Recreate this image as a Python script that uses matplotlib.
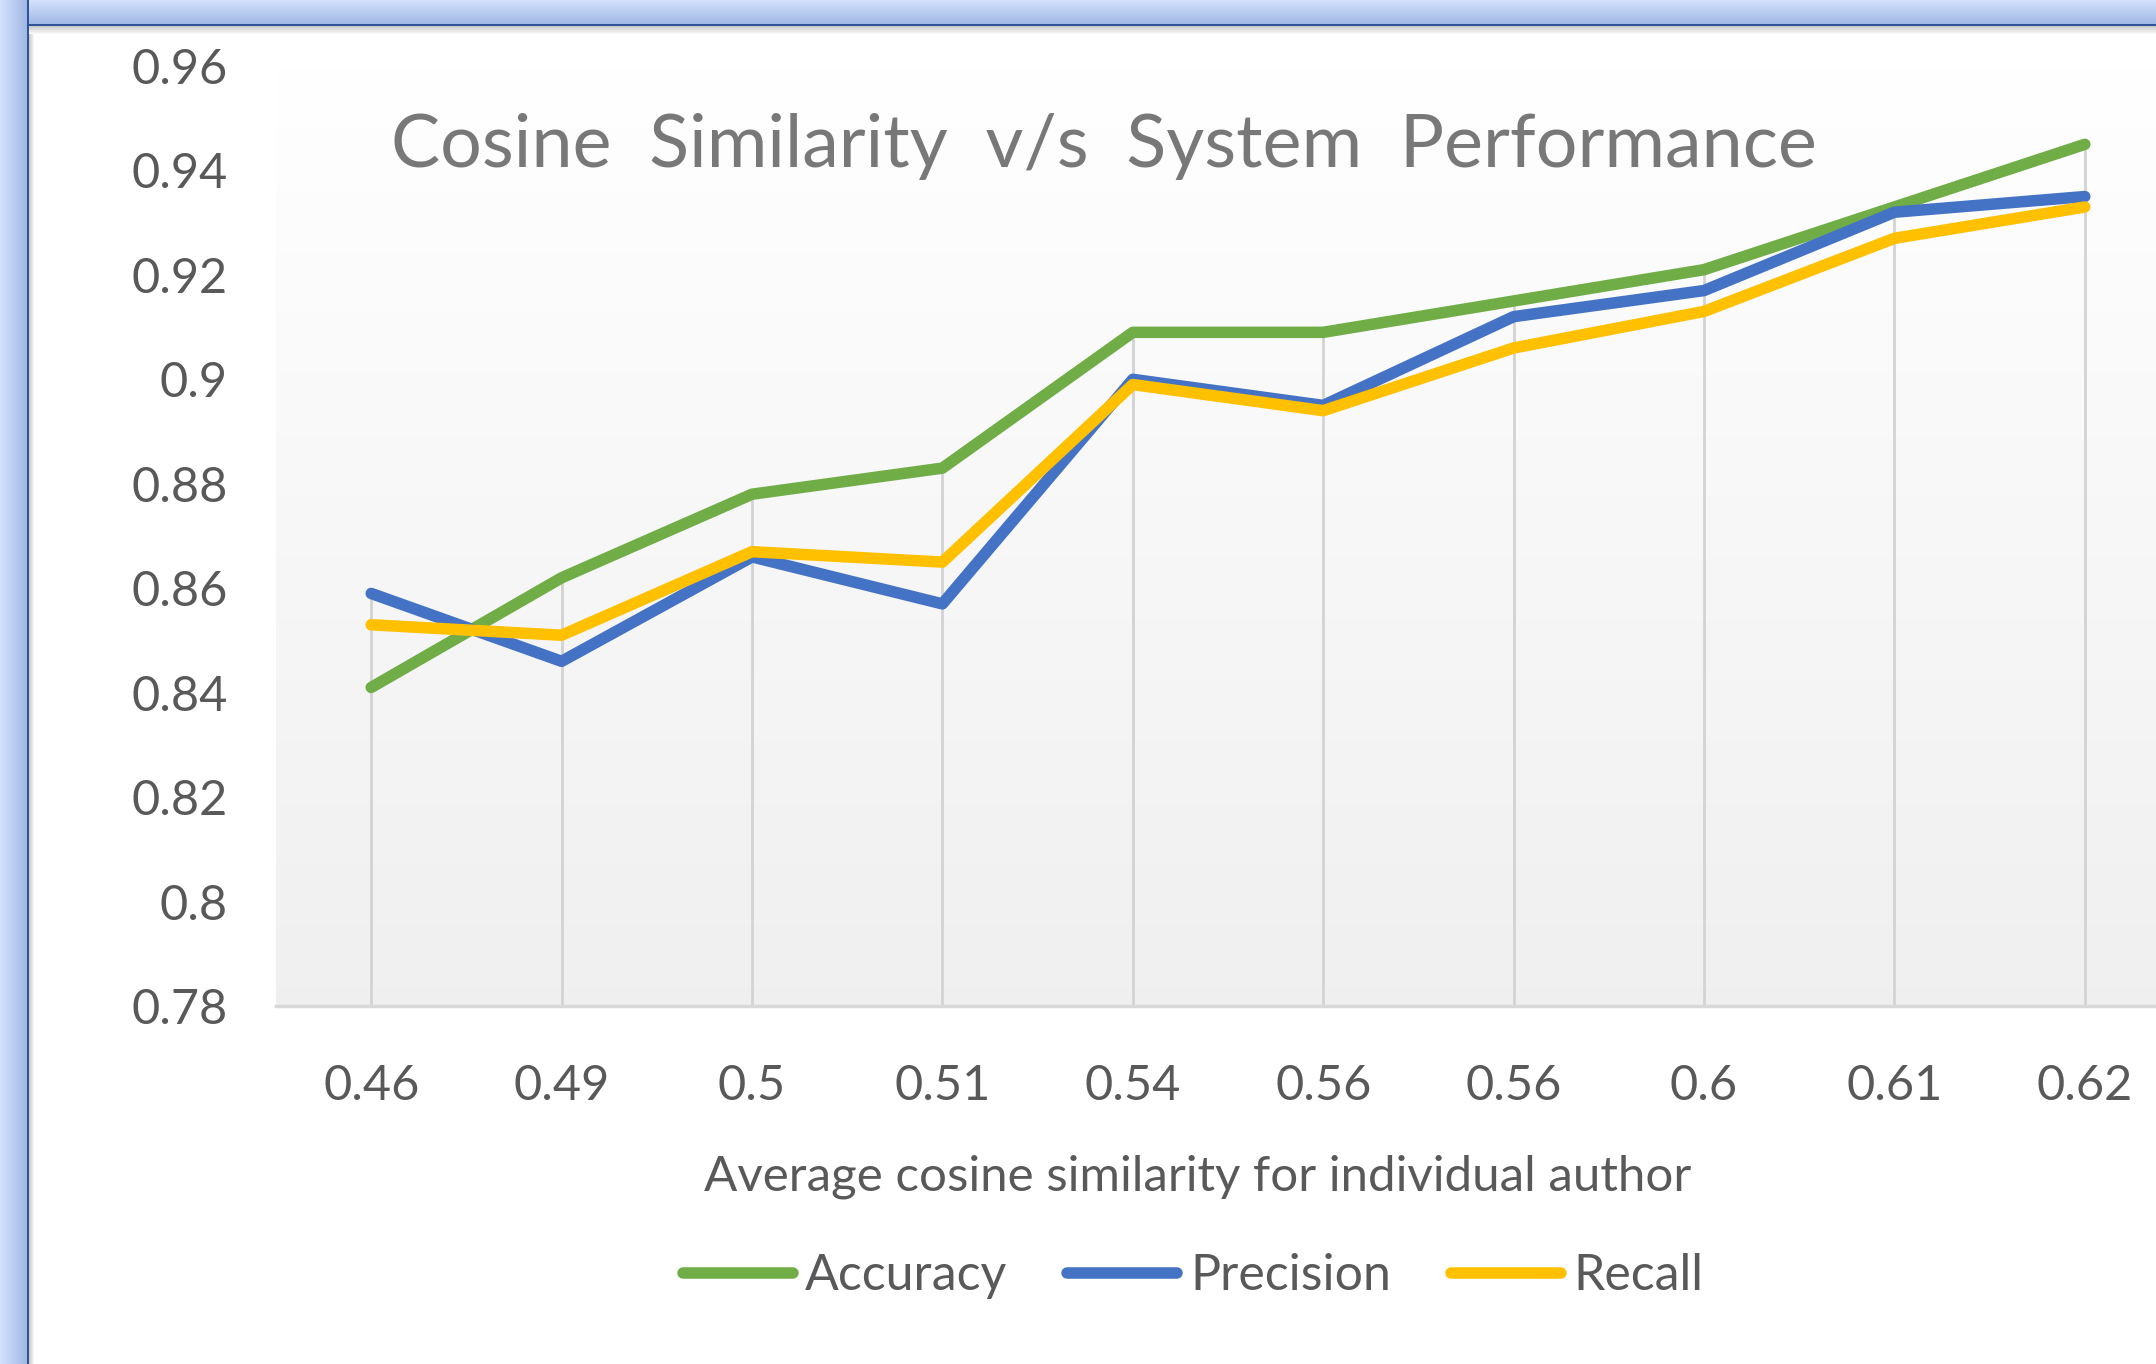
import numpy as np
import matplotlib
matplotlib.use("Agg")
import matplotlib.pyplot as plt

# ---- data ----
categories = ["0.46", "0.49", "0.5", "0.51", "0.54", "0.56", "0.56", "0.6", "0.61", "0.62"]
accuracy = [0.841, 0.862, 0.878, 0.883, 0.909, 0.909, 0.915, 0.921, 0.933, 0.945]
precision = [0.859, 0.846, 0.866, 0.857, 0.900, 0.895, 0.912, 0.917, 0.932, 0.935]
recall = [0.853, 0.851, 0.867, 0.865, 0.899, 0.894, 0.906, 0.913, 0.927, 0.933]
yticks = [0.78, 0.80, 0.82, 0.84, 0.86, 0.88, 0.90, 0.92, 0.94, 0.96]
ytick_labels = ["0.78", "0.8", "0.82", "0.84", "0.86", "0.88", "0.9", "0.92", "0.94", "0.96"]
series_names = ["Accuracy", "Precision", "Recall"]
title = "Cosine  Similarity  v/s  System  Performance"
xlabel = "Average cosine similarity for individual author"

colors = ["#70AD47", "#4472C4", "#FFC000"]
W, H = 2156, 1364
DPI = 100
FONT = "Lato"
TXT = "#595959"

fig = plt.figure(figsize=(W / DPI, H / DPI), dpi=DPI)

# ---- window frame background ----
ax_bg = fig.add_axes([0, 0, 1, 1], zorder=-10)
img = np.ones((H, W, 3))
light = np.array([212, 224, 252]) / 255
deep = np.array([160, 184, 228]) / 255
dark = np.array([47, 84, 150]) / 255
LB, TB = 27, 24
for xx in range(LB):
    t = xx / LB
    img[:, xx] = light * (1 - t) + deep * t
for yy in range(TB):
    t = yy / TB
    img[yy, LB:] = light * (1 - t) + deep * t
img[:, LB:LB + 2] = dark
img[TB:TB + 2, LB:] = dark
for i in range(8):
    g = 0.80 + 0.2 * i / 8
    img[TB + 2 + i, LB + 2:] = g
for i in range(5):
    g = 0.80 + 0.2 * i / 5
    img[TB + 2 + 8:, LB + 2 + i] = np.minimum(img[TB + 2 + 8:, LB + 2 + i], g)
ax_bg.imshow(img, extent=[0, W, H, 0], aspect="auto", interpolation="nearest")
ax_bg.set_axis_off()

# ---- main axes ----
left = 276 / W
right = 2180 / W
bottom = 1 - 1006 / H
top = 1 - 66 / H
ax = fig.add_axes([left, bottom, right - left, top - bottom])
ax.set_facecolor("none")

grad = np.linspace(1.0, 0.94, 256).reshape(-1, 1)
grad_rgb = np.dstack([grad, grad, grad])
ax.imshow(grad_rgb, extent=[0, 1, 0, 1], transform=ax.transAxes, aspect="auto", zorder=0)

x = np.arange(len(categories))
tops = np.max(np.vstack([accuracy, precision, recall]), axis=0)
ax.vlines(x, yticks[0], tops, color="#d3d3d3", lw=2, zorder=1)

for vals, c, name in zip([accuracy, precision, recall], colors, series_names):
    ax.plot(x, vals, color=c, lw=8.3, solid_capstyle="round", solid_joinstyle="round", label=name, zorder=3)

ax.set_xlim(-0.5, len(categories) - 0.5)
ax.set_ylim(yticks[0], yticks[-1])
ax.set_yticks(yticks)
ax.set_yticklabels(ytick_labels)
ax.set_xticks(x)
ax.set_xticklabels(categories)
ax.tick_params(axis="both", length=0, labelsize=35, labelcolor=TXT)
ax.tick_params(axis="y", pad=35)
ax.tick_params(axis="x", pad=42)
for lab in ax.get_xticklabels() + ax.get_yticklabels():
    lab.set_fontfamily(FONT)
for s in ["top", "right", "left"]:
    ax.spines[s].set_visible(False)
ax.spines["bottom"].set_color("#d9d9d9")
ax.spines["bottom"].set_linewidth(2.5)

fig.text((395 + 1812) / 2 / W, 1 - 146 / H, title, ha="center", va="center", fontsize=53,
         color="#787878", family=FONT)
fig.text((701 + 1694) / 2 / W, 1 - 1177 / H, xlabel, ha="center", va="center",
         fontsize=35.5, color=TXT, family=FONT)

leg = fig.legend(loc="center", bbox_to_anchor=(1193 / W, 1 - 1276 / H), ncol=3,
                 frameon=False, prop={"family": FONT, "size": 36},
                 handlelength=2.2, handletextpad=0.25, columnspacing=1.2)
for t in leg.get_texts():
    t.set_color(TXT)

fig.savefig("out.png", dpi=DPI)
